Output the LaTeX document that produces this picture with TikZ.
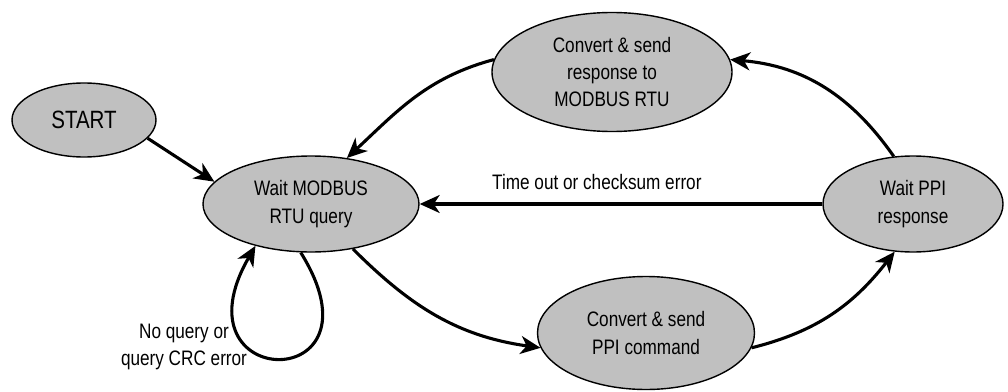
\documentclass[tikz,border=0pt]{standalone}
\usepackage{fontspec}
\setmainfont[FakeStretch=0.82]{Liberation Sans}
\usetikzlibrary{shapes.geometric,arrows.meta}
\definecolor{stategray}{RGB}{192,192,192}
\tikzset{
    state/.style={ellipse, draw, line width=1pt, fill=stategray, align=center,
        inner sep=0pt, font=\fontsize{14.9}{19.5}\selectfont},
    trans/.style={line width=2.2pt, -{Stealth[length=0.5cm, width=0.45cm, inset=0.15cm]}},
    translabel/.style={font=\fontsize{14.9}{19.5}\selectfont, align=center}
}

\begin{document}
\begin{tikzpicture}
\useasboundingbox (0, 0) rectangle (25.2, 9.775);
    \node[state, minimum width=3.6cm, minimum height=1.85cm,
        font=\fontsize{17.8}{21}\selectfont] (start) at (2.1, 6.775) {START};
    \node[state, minimum width=5.4cm, minimum height=2.4cm] (waitrtu) at (7.775, 4.675) {Wait MODBUS\\RTU query};
    \node[state, minimum width=6cm, minimum height=2.975cm] (sendrtu) at (15.3, 7.975) {Convert \& send\\response to\\MODBUS RTU};
    \node[state, minimum width=4.5cm, minimum height=2.4cm] (waitppi) at (22.825, 4.675) {Wait PPI\\response};
    \node[state, minimum width=5.425cm, minimum height=2.825cm] (sendppi) at (16.15, 1.45) {Convert \& send\\PPI command};

    \draw[trans] (start.-16) -- (waitrtu.167);
    \draw[trans] (sendrtu.174) to[out=195, in=43] (waitrtu.52);
    \draw[trans] (waitppi.112) to[out=125, in=-5] (sendrtu.6);
    \draw[trans] (waitppi.west) -- node[translabel, pos=0.56, above=6pt] {Time out or checksum error} (waitrtu.east);
    \draw[trans] (waitrtu.-47) to[out=-45, in=172] (sendppi.188);
    \draw[trans] (sendppi.-8) to[out=14, in=-128] (waitppi.249);
    \draw[trans] (waitrtu.-102) to[out=-58, in=-120, looseness=9.5] (waitrtu.-143);

    \node[translabel] (looplabel) at (4.6, 1.1) {No query or\\query CRC error};
\end{tikzpicture}
\end{document}
